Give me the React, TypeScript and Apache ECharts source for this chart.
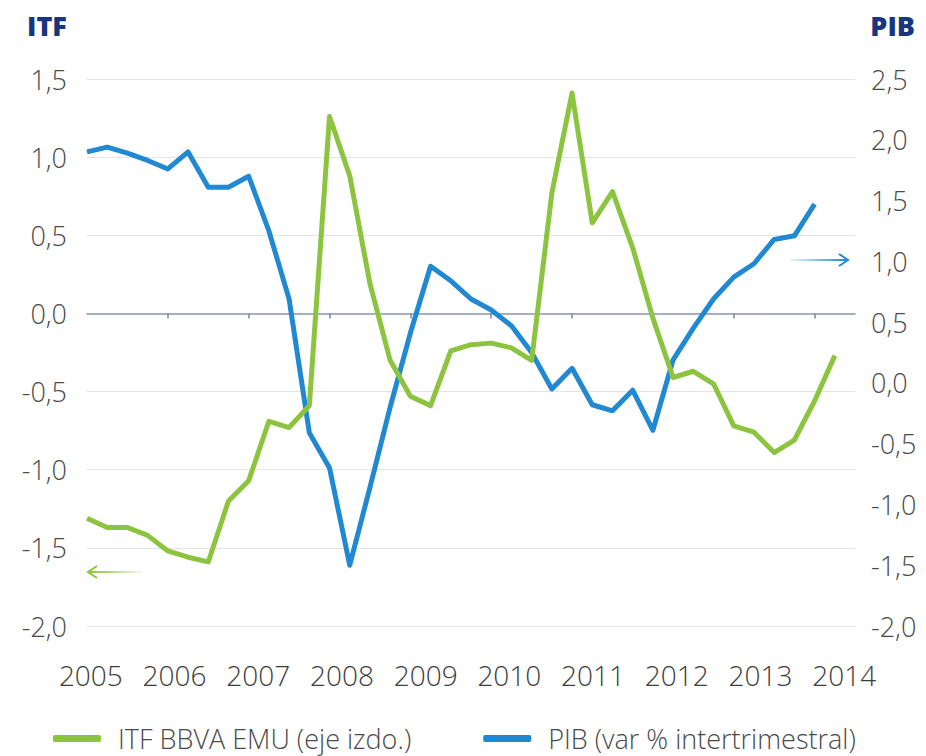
import React, { useEffect, useRef } from "react";
import * as echarts from "echarts";

const years = ["2005", "2006", "2007", "2008", "2009", "2010", "2011", "2012", "2013", "2014"];
const quarterNames = ["T1", "T2", "T3", "T4"];
const quarters: string[] = years.flatMap((y) => quarterNames.map((q) => `${q} ${y}`)).slice(0, 39);

const itfSeries = [
  -1.31, -1.37, -1.37, -1.42, -1.52, -1.56, -1.59, -1.2, -1.07, -0.69, -0.73, -0.59,
  1.26, 0.88, 0.19, -0.3, -0.53, -0.59, -0.24, -0.2, -0.19, -0.22, -0.3, 0.77,
  1.41, 0.58, 0.78, 0.42, -0.03, -0.41, -0.37, -0.45, -0.72, -0.76, -0.89, -0.81,
  -0.56, -0.27,
];
const pibSeries = [
  1.9, 1.94, 1.89, 1.83, 1.76, 1.9, 1.61, 1.61, 1.7, 1.25, 0.69, -0.41,
  -0.7, -1.5, -0.86, -0.2, 0.41, 0.96, 0.84, 0.69, 0.6, 0.47, 0.25, -0.05,
  0.12, -0.18, -0.23, -0.06, -0.39, 0.19, 0.45, 0.69, 0.87, 0.98, 1.18, 1.21,
  1.47,
];

const leftTicks = { min: -2, max: 1.5, interval: 0.5 };
const rightTicks = { min: -2, max: 2.5, interval: 0.5 };

const GREEN = "#8cc43f";
const BLUE = "#2189d2";
const NAVY = "#17367f";
const TEXT = "#4a4a4a";
const FONT = "'Open Sans', 'DejaVu Sans', sans-serif";

const fmt = (v: number) => v.toFixed(1).replace(".", ",");

export default function App() {
  const ref = useRef<HTMLDivElement>(null);

  useEffect(() => {
    document.body.style.margin = "0";
    const chart = echarts.init(ref.current!, null, { renderer: "svg" });
    const option: any = {
      animation: false,
      backgroundColor: "#ffffff",
      textStyle: { fontFamily: FONT },
      title: [
        {
          text: "ITF",
          left: 22,
          top: 7,
          textStyle: { fontFamily: FONT, fontSize: 27, fontWeight: 800, color: NAVY },
        },
        {
          text: "PIB",
          right: 6,
          top: 7,
          textStyle: { fontFamily: FONT, fontSize: 27, fontWeight: 800, color: NAVY },
        },
      ],
      grid: [
        { left: 87, right: 71, top: 79, bottom: 130 },
        { left: 49, right: 40, top: 645, height: 10 },
      ],
      legend: {
        top: 724,
        left: 53,
        padding: 0,
        itemWidth: 48,
        itemHeight: 7,
        itemGap: 72,
        icon: "roundRect",
        textStyle: {
          fontFamily: FONT,
          fontSize: 27,
          lineHeight: 29,
          fontWeight: 300,
          color: TEXT,
          padding: [0, 0, 0, 12],
        },
        data: ["ITF BBVA EMU (eje izdo.)", "PIB (var % intertrimestral)"],
      },
      xAxis: [
        {
          type: "category",
          gridIndex: 0,
          data: quarters,
          boundaryGap: false,
          axisLine: { onZero: true, lineStyle: { color: "#8e9ab2", width: 1.5 } },
          axisTick: {
            show: true,
            length: 5,
            interval: (i: number) => i % 4 === 0 && i > 0,
            lineStyle: { color: "#7d879c", width: 1.5 },
          },
          axisLabel: { show: false },
          splitLine: { show: false },
        },
        {
          type: "category",
          gridIndex: 1,
          data: years,
          boundaryGap: true,
          axisLine: { show: false },
          axisTick: { show: false },
          axisLabel: { fontFamily: FONT, fontSize: 28, fontWeight: 300, color: "#3d3d3d", margin: 6, interval: 0 },
        },
      ],
      yAxis: [
        {
          type: "value",
          gridIndex: 0,
          position: "left",
          ...leftTicks,
          axisLine: { show: false },
          axisTick: { show: false },
          axisLabel: { formatter: fmt, fontFamily: FONT, fontSize: 27, fontWeight: 300, color: TEXT, margin: 20 },
          splitLine: { show: true, lineStyle: { color: "#e4e4e4", width: 1.2 } },
        },
        {
          type: "value",
          gridIndex: 0,
          position: "right",
          ...rightTicks,
          axisLine: { show: false },
          axisTick: { show: false },
          axisLabel: { formatter: fmt, fontFamily: FONT, fontSize: 27, fontWeight: 300, color: TEXT, margin: 16 },
          splitLine: { show: false },
        },
        {
          type: "value",
          gridIndex: 1,
          show: false,
        },
      ],
      series: [
        {
          name: "ITF BBVA EMU (eje izdo.)",
          type: "line",
          xAxisIndex: 0,
          yAxisIndex: 0,
          data: itfSeries,
          showSymbol: false,
          symbol: "none",
          lineStyle: { color: GREEN, width: 5, join: "round" },
          itemStyle: { color: GREEN },
          z: 3,
        },
        {
          name: "PIB (var % intertrimestral)",
          type: "line",
          xAxisIndex: 0,
          yAxisIndex: 1,
          data: pibSeries,
          showSymbol: false,
          symbol: "none",
          lineStyle: { color: BLUE, width: 5, join: "round" },
          itemStyle: { color: BLUE },
          z: 2,
        },
      ],
      graphic: [
        {
          type: "line",
          shape: { x1: 142, y1: 572, x2: 90, y2: 572 },
          style: {
            stroke: new echarts.graphic.LinearGradient(
              142, 0, 90, 0,
              [
                { offset: 0, color: "rgba(140,196,63,0.1)" },
                { offset: 1, color: "rgba(140,196,63,1)" },
              ],
              true
            ),
            lineWidth: 2,
          },
        },
        {
          type: "polyline",
          shape: { points: [[97, 566], [88, 572], [97, 578]] },
          style: { stroke: GREEN, lineWidth: 2, fill: "none" },
        },
        {
          type: "line",
          shape: { x1: 790, y1: 260, x2: 846, y2: 260 },
          style: {
            stroke: new echarts.graphic.LinearGradient(
              790, 0, 846, 0,
              [
                { offset: 0, color: "rgba(33,137,210,0.1)" },
                { offset: 1, color: "rgba(33,137,210,1)" },
              ],
              true
            ),
            lineWidth: 2,
          },
        },
        {
          type: "polyline",
          shape: { points: [[839, 254], [848, 260], [839, 266]] },
          style: { stroke: BLUE, lineWidth: 2, fill: "none" },
        },
      ],
    };
    chart.setOption(option);
    return () => chart.dispose();
  }, []);

  return <div ref={ref} style={{ position: "fixed", left: 0, top: 0, width: 926, height: 756 }} />;
}
